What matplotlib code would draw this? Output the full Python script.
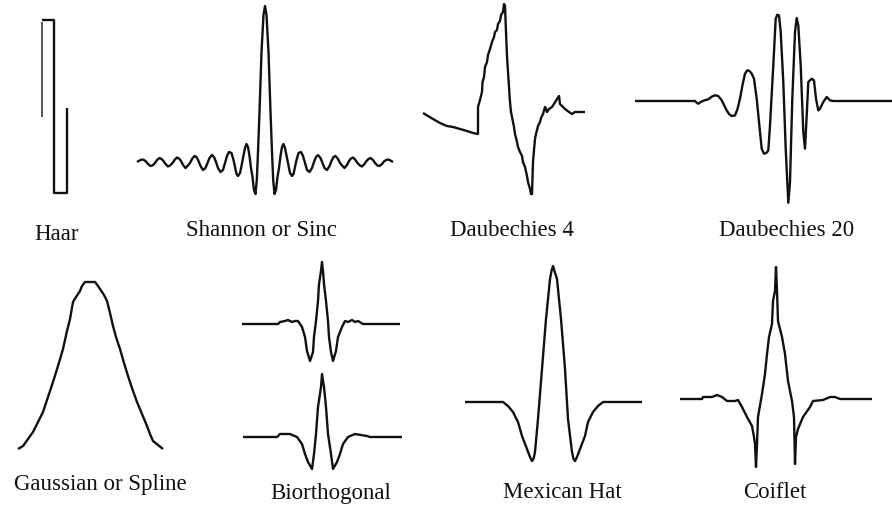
import numpy as np
import matplotlib
matplotlib.use("Agg")
import matplotlib.pyplot as plt

W, H = 892, 506

# ---------------- data (x = sample position, y = amplitude) ----------------
haar_x = [2, 14, 14, 27, 27]
haar_y = [87, 87, -86, -86, -1]
haar_ghost_x = [2, 2]
haar_ghost_y = [85, -10]

shannon_x = [0, 2.5, 5, 7, 9, 11, 13.5, 15.5, 18, 20, 22.5, 24.5, 26.5, 28.5, 31, 33, 35.5, 37.5,
             40, 42, 44, 46, 48.5, 50.5, 53, 55, 57.5, 59.5, 61.5, 63.5, 66, 68.5, 70.5, 72.5, 75,
             77, 79, 81, 83.5, 86, 88, 90, 92, 94.5, 96.5, 98, 99.5, 101, 103, 104.5, 106, 108,
             109.5, 111, 112.5, 114, 115.5, 117, 118.5, 119.8, 121, 122.5, 124.5, 126.5,
             128, 129.5, 131.5, 133.5, 135, 136.2, 137.5, 139, 140.5, 142, 143.5, 145, 146.5, 148,
             150, 151.5, 153, 155, 156.5, 158, 159.5, 161.5, 164, 166, 168, 170, 172.5, 175, 177,
             179, 181, 183.5, 185.5, 187.5, 190, 192.5, 194.5, 196.5, 198.5, 201, 203, 205.5,
             207.5, 210, 212, 214, 216, 218.5, 220.5, 223, 225, 227.5, 229.5, 231.5, 233.5, 236,
             238, 240.5, 242.5, 245, 247, 249, 251, 253.5, 256]
shannon_y = [0, 1.5, 2.5, 2, 0.5, -2, -4, -3.5, -1, 2, 4, 3, 1, -2, -4.5, -3.5, -1, 2, 4.5, 3.5,
             1, -3, -6, -4, -1, 3, 6, 5, 1, -4, -8, -6, -1, 4, 7, 5, 0, -6, -10, -8, -1, 6, 10,
             9, 2, -5, -12, -14, -11, -4, 4, 14, 18, 15, 6, -6, -15, -28, -32, -18, 10, 50, 110,
             147,
             156, 147, 110, 50, 10, -18, -32, -28, -15, -6, 6, 15, 18, 14, 4, -4, -11, -14, -12,
             -5, 2, 9, 10, 6, -1, -8, -10, -6, 0, 5, 7, 4, -1, -6, -8, -4, 1, 5, 6, 3, -1, -4,
             -6, -3, 1, 3.5, 4.5, 2, -1, -3.5, -4.5, -2, 1, 3, 4, 2, -1, -3.5, -4, -2, 0.5, 2,
             2.5, 1.5, 0]

d4_x = [0, 5, 10, 17, 24, 30, 37, 44, 50, 55,
        55, 57, 59, 59.5, 61, 62, 64, 65, 67, 69, 71, 72, 74, 75, 77, 78, 80, 81,
        82, 83, 84, 85, 86, 87, 88, 90, 91, 92, 94, 95, 97, 99, 100, 102, 104, 105, 107, 108,
        109, 110, 111, 112, 113, 115, 117, 118, 120, 122, 123, 124, 126, 129, 131, 134, 136,
        137, 139, 142, 146, 149, 152, 162]
d4_y = [-1, -4, -7, -11, -14, -15, -17, -19, -21, -22,
        5, 12, 20, 30, 35, 45, 50, 57, 63, 70, 75, 80, 82, 88, 91, 97, 100, 108,
        106, 80, 56, 40, 25, 10, 0, -10, -15, -22, -30, -35, -40, -44, -50, -55, -64, -70, -77, -82,
        -82, -50, -38, -27, -22, -14, -10, -6, -2, 5, 3, 0, 3, 5, 8, 13, 16,
        8, 6, 3, 0, -2, 0, 0]

d20_x = [0, 60, 61.7, 63.3, 65.7, 69, 73.3, 77, 80, 83.3, 86.7, 89, 91.7, 94, 96.7, 100, 102.5,
         105, 107.5, 110, 112.3, 114.5, 116.7, 119, 121.7, 125, 126.7, 129, 131.7, 133.3, 135,
         138.3, 140.7, 142.3, 144, 145.7, 148.3, 150.7, 153.3, 155, 157.3, 160, 161.7, 163.3,
         165.7, 168.3, 170, 171.7, 173.3, 176.7, 179, 181, 183.3, 185, 188.3, 191.7, 195, 198.3,
         257]
d20_y = [0, 0, -1.7, -2.7, -1, 0.5, 1.7, 4.5, 5.7, 5, 0.7, -4, -9.4, -13, -15, -14.4, -8,
         2.3, 16, 27.3, 30.7, 30, 27.3, 22.3, 2.3, -31, -47.7, -52.7, -51.7, -49.4, -24.4,
         35.6, 82.3, 86.3, 85.6, 69, 19, -47.7, -101.7, -81, 2.3, 69, 83, 75.6,
         35.6, -31, -47.7, -14.4, 19, 22.3, 20.6, 2.3, -9.4, -7.7, -1, 4, 0.6, 0,
         0]

gauss_x = [0, 5, 10, 15, 20, 25, 30, 35, 40, 45, 49, 52, 55, 58, 62, 64, 67, 72, 77, 80, 82, 86,
           89, 92, 95, 98, 102, 106, 110, 115, 119, 124, 129, 132, 135, 140, 145]
gauss_y = [0, 3, 10, 17, 27, 37, 52, 67, 83, 100, 118, 130, 147, 152, 158, 163, 167, 167, 167,
           163, 160, 154, 148, 136, 123, 112, 100, 86, 73, 58, 47, 35, 23, 15, 8, 4, 0]

bio_top_x = [0, 36, 38, 43, 46, 50, 53, 56, 60, 63, 65, 68, 71, 72, 74, 76, 77, 79, 80, 81, 82,
             84, 86, 87, 89, 91, 94, 96, 100, 103, 106, 110, 113, 116, 121, 158]
bio_top_y = [0, 0, 2, 3, 4, 2, 3, 3, -3, -13, -27, -37, -28, -13, 3, 23, 40, 53, 62, 53, 40,
             23, 3, -13, -28, -37, -27, -13, -3, 3, 2, 4, 2, 3, 0, 0]

bio_bot_x = [1, 35, 38, 48, 55, 60, 63, 66, 70, 72, 74, 76, 79, 80, 82, 84, 86, 89, 91, 95, 98,
             101, 106, 113, 125, 128, 160]
bio_bot_y = [0, 0, 3, 3, 0, -7, -17, -25, -32, -17, 3, 30, 50, 63, 50, 30, 3, -17, -32, -25, -17,
             -7, 0, 3, 1, 0, 0]

mex_x = [0, 38, 43, 48, 53, 57, 62, 65, 67, 68.5, 70, 73, 77, 81, 85, 86.5, 88, 89.5, 92, 96,
         100, 103, 107, 108.5, 110, 112, 115, 120, 123, 128, 133, 138, 177]
mex_y = [0, 0, -4, -10, -20, -34, -47, -55, -59, -57, -50, -17, 33, 83, 123, 131, 136, 131, 123,
         83, 33, -17, -50, -57, -59, -55, -47, -34, -20, -10, -4, 0, 0]

coif_x = [0, 22, 23, 32, 37, 42, 47, 55, 58, 62, 67, 72, 74, 75, 76, 77, 78, 82, 85, 87, 89, 92,
          93, 95, 96, 97, 98, 102, 105, 108, 112, 114, 115, 116, 118, 123, 130, 133, 143, 150,
          155, 160, 192]
coif_y = [0, 0, 2, 2, 4, 2, -2, -2, -1, -8, -18, -27, -38, -45, -68, -45, -18, 5, 25, 45, 62, 75,
          98, 108, 132, 108, 78, 62, 45, 18, -2, -18, -65, -38, -30, -18, -8, -2, -1, 2, 2, 0, 0]

labels = ["Haar", "Shannon or Sinc", "Daubechies 4", "Daubechies 20",
          "Gaussian or Spline", "Biorthogonal", "Mexican Hat", "Coiflet"]

# ---------------- layout ----------------
fig = plt.figure(figsize=(W / 100, H / 100), dpi=100)
fig.patch.set_facecolor("white")

LW = 1.7
INK = "#111111"


def add_panel(left_px, base_px, xs, ys, pad=4):
    x0, x1 = min(xs) - pad, max(xs) + pad
    y0, y1 = min(ys) - pad, max(ys) + pad
    ax = fig.add_axes([(left_px + x0) / W, 1 - (base_px - y0) / H,
                       (x1 - x0) / W, (y1 - y0) / H])
    ax.set_xlim(x0, x1)
    ax.set_ylim(y0, y1)
    ax.axis("off")
    return ax


def draw(ax, xs, ys, lw=LW, color=INK):
    ax.plot(xs, ys, color=color, lw=lw, solid_joinstyle="round",
            solid_capstyle="butt", clip_on=False)


ax = add_panel(40, 108, haar_x + haar_ghost_x, haar_y + haar_ghost_y)
draw(ax, haar_ghost_x, haar_ghost_y, lw=1.4, color="#555555")
draw(ax, haar_x, haar_y)

ax = add_panel(137, 163, shannon_x, shannon_y)
draw(ax, shannon_x, shannon_y)

ax = add_panel(423, 113, d4_x, d4_y)
draw(ax, d4_x, d4_y)

ax = add_panel(635, 102, d20_x, d20_y)
draw(ax, d20_x, d20_y)

ax = add_panel(18, 450, gauss_x, gauss_y)
draw(ax, gauss_x, gauss_y)

ax = add_panel(242, 325, bio_top_x, bio_top_y)
draw(ax, bio_top_x, bio_top_y)

ax = add_panel(242, 438, bio_bot_x, bio_bot_y)
draw(ax, bio_bot_x, bio_bot_y)

ax = add_panel(465, 403, mex_x, mex_y)
draw(ax, mex_x, mex_y)

ax = add_panel(680, 400, coif_x, coif_y)
draw(ax, coif_x, coif_y)

# labels (pixel centre x, baseline y)
label_pos = [(57, 240), (261, 236.5), (512, 236.5), (787, 236.5),
             (100, 490), (331, 499), (562, 498), (775, 498)]
for text, (px, py) in zip(labels, label_pos):
    fig.text(px / W, 1 - py / H, text, ha="center", va="baseline",
             fontfamily="Liberation Serif", fontsize=16.5, color=INK)

fig.savefig("out.png", dpi=100, facecolor="white")
